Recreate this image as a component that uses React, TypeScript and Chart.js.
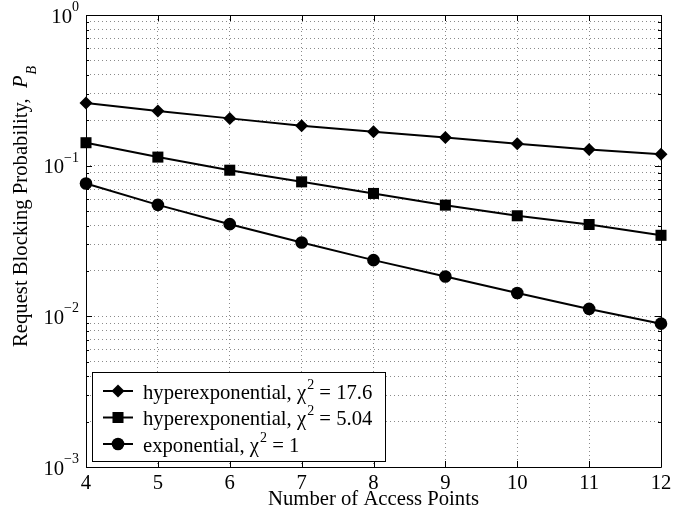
import React, { useEffect, useRef } from 'react';
import { Chart, registerables } from 'chart.js';

Chart.register(...registerables);

// Number of access points on the x axis
const accessPoints = [4, 5, 6, 7, 8, 9, 10, 11, 12];

// Request blocking probability P_B for each traffic model
const hyperExp176 = [0.261, 0.231, 0.206, 0.184, 0.168, 0.154, 0.14, 0.128, 0.119];
const hyperExp504 = [0.142, 0.114, 0.0933, 0.0781, 0.0654, 0.0547, 0.0465, 0.0407, 0.0345];
const exponential1 = [0.0762, 0.0549, 0.0409, 0.0309, 0.0236, 0.0184, 0.0143, 0.0112, 0.00894];

// Legend text, split around the superscript "2"
const legendPrefixes = ['hyperexponential, χ', 'hyperexponential, χ', 'exponential, χ'];
const legendSuffixes = [' = 17.6', ' = 5.04', ' = 1'];
const markerStyles = ['rectRot', 'rect', 'circle'];
const markerRadii = [6.5, 7.8, 6.3];

// Axis ticks
const xTicks = [4, 5, 6, 7, 8, 9, 10, 11, 12];
const yDecadeExponents = [-3, -2, -1, 0];

const FONT = '"Liberation Serif", "Times New Roman", Times, serif';
const MAIN = 20.7;
const SMALL = 14;

function logTickValues(): number[] {
  const vals: number[] = [];
  for (let e = -3; e < 0; e++) {
    for (let m = 1; m <= 9; m++) vals.push(Number((m * Math.pow(10, e)).toPrecision(6)));
  }
  vals.push(1);
  return vals;
}

function drawMarker(ctx: CanvasRenderingContext2D, style: string, r: number, x: number, y: number) {
  ctx.beginPath();
  if (style === 'rectRot') {
    ctx.moveTo(x - r, y);
    ctx.lineTo(x, y - r);
    ctx.lineTo(x + r, y);
    ctx.lineTo(x, y + r);
    ctx.closePath();
  } else if (style === 'rect') {
    const h = r * Math.SQRT1_2;
    ctx.rect(x - h, y - h, 2 * h, 2 * h);
  } else {
    ctx.arc(x, y, r, 0, Math.PI * 2);
  }
  ctx.fill();
}

const frameAndLabels = {
  id: 'frameAndLabels',
  beforeDatasetsDraw(chart: any) {
    const { ctx, chartArea: a, scales } = chart;
    const xs = scales.x;
    const ys = scales.y;
    ctx.save();
    // ticks pointing inward
    ctx.strokeStyle = '#000';
    ctx.lineWidth = 1;
    ctx.beginPath();
    xTicks.forEach((v) => {
      const px = Math.round(xs.getPixelForValue(v)) + 0.5;
      ctx.moveTo(px, a.bottom);
      ctx.lineTo(px, a.bottom - 6);
      ctx.moveTo(px, a.top);
      ctx.lineTo(px, a.top + 6);
    });
    logTickValues().forEach((v) => {
      const major = Math.abs(Math.log10(v) - Math.round(Math.log10(v))) < 1e-9;
      const len = major ? 6 : 3;
      const py = Math.round(ys.getPixelForValue(v)) + 0.5;
      ctx.moveTo(a.left, py);
      ctx.lineTo(a.left + len, py);
      ctx.moveTo(a.right, py);
      ctx.lineTo(a.right - len, py);
    });
    ctx.stroke();
    // frame
    ctx.beginPath();
    ctx.rect(Math.round(a.left) + 0.5, Math.round(a.top) + 0.5, Math.round(a.right - a.left), Math.round(a.bottom - a.top));
    ctx.stroke();

    ctx.fillStyle = '#000';
    // x tick labels
    ctx.font = `${MAIN}px ${FONT}`;
    ctx.textAlign = 'center';
    ctx.textBaseline = 'alphabetic';
    xTicks.forEach((v) => {
      ctx.fillText(String(v), xs.getPixelForValue(v), a.bottom + 22);
    });
    // x title
    ctx.fillText('Number of Access Points', (a.left + a.right) / 2, a.bottom + 38);

    // y tick labels: 10 with superscript exponent
    yDecadeExponents.forEach((e) => {
      const py = ys.getPixelForValue(Math.pow(10, e));
      const exp = e === 0 ? '0' : '−' + String(-e);
      ctx.font = `${SMALL}px ${FONT}`;
      ctx.textAlign = 'right';
      const expRight = a.left - 7;
      const expW = ctx.measureText(exp).width;
      ctx.fillText(exp, expRight, py - 4);
      ctx.font = `${MAIN}px ${FONT}`;
      ctx.fillText('10', expRight - expW, py + 7.5);
    });

    // y title with italic P and subscript B
    ctx.translate(27, 347);
    ctx.rotate(-Math.PI / 2);
    ctx.textAlign = 'left';
    ctx.font = `${MAIN}px ${FONT}`;
    const main = 'Request Blocking Probability,  ';
    ctx.fillText(main, 0, 0);
    let off = ctx.measureText(main).width;
    ctx.font = `italic ${MAIN}px ${FONT}`;
    ctx.fillText('P', off, 0);
    off += ctx.measureText('P').width + 1;
    ctx.font = `italic ${SMALL}px ${FONT}`;
    ctx.fillText('B', off, 9);
    ctx.restore();
  },
  afterDatasetsDraw(chart: any) {
    const { ctx } = chart;
    ctx.save();
    const bx = 92.5, by = 372.5, bw = 293, bh = 89;
    ctx.fillStyle = '#fff';
    ctx.fillRect(bx, by, bw, bh);
    ctx.strokeStyle = '#000';
    ctx.lineWidth = 1;
    ctx.strokeRect(bx, by, bw, bh);
    const rowY = [391, 417.5, 444];
    chart.data.datasets.forEach((ds: any, i: number) => {
      const cy = rowY[i];
      ctx.strokeStyle = '#000';
      ctx.lineWidth = 2;
      ctx.beginPath();
      ctx.moveTo(103, cy);
      ctx.lineTo(133, cy);
      ctx.stroke();
      ctx.fillStyle = '#000';
      drawMarker(ctx, ds.pointStyle, ds.pointRadius, 118, cy);
      ctx.font = `${MAIN}px ${FONT}`;
      ctx.textAlign = 'left';
      ctx.textBaseline = 'alphabetic';
      const base = cy + 7.5;
      ctx.fillText(legendPrefixes[i], 143, base);
      let x = 143 + ctx.measureText(legendPrefixes[i]).width + 1;
      ctx.font = `${SMALL}px ${FONT}`;
      ctx.fillText('2', x, base - 10);
      x += ctx.measureText('2').width;
      ctx.font = `${MAIN}px ${FONT}`;
      ctx.fillText(legendSuffixes[i], x, base);
    });
    ctx.restore();
  },
};

export default function App() {
  const ref = useRef<HTMLCanvasElement | null>(null);
  useEffect(() => {
    if (!ref.current) return;
    const series = [hyperExp176, hyperExp504, exponential1];
    const chart = new Chart(ref.current, {
      type: 'line',
      data: {
        datasets: series.map((vals, i) => ({
          label: legendPrefixes[i] + '2' + legendSuffixes[i],
          data: accessPoints.map((x, j) => ({ x, y: vals[j] })),
          borderColor: '#000',
          backgroundColor: '#000',
          borderWidth: 2,
          pointStyle: markerStyles[i] as any,
          pointRadius: markerRadii[i],
          pointBorderWidth: 0,
          pointBackgroundColor: '#000',
          tension: 0,
          clip: false as any,
        })),
      },
      options: {
        responsive: false,
        devicePixelRatio: 1,
        animation: false,
        events: [],
        layout: { padding: { left: 86, right: 35, top: 15, bottom: 51 } },
        plugins: { legend: { display: false }, tooltip: { enabled: false } },
        scales: {
          x: {
            type: 'linear',
            min: 4,
            max: 12,
            afterFit: (s: any) => { s.height = 0; },
            afterBuildTicks: (s: any) => { s.ticks = xTicks.map((v) => ({ value: v })); },
            ticks: { display: false },
            grid: { color: '#8a8a8a', lineWidth: 1, drawTicks: false },
            border: { display: false, dash: [1, 3] },
          },
          y: {
            type: 'logarithmic',
            min: 0.001,
            max: 1,
            afterFit: (s: any) => { s.width = 0; },
            afterBuildTicks: (s: any) => { s.ticks = logTickValues().map((v) => ({ value: v })); },
            ticks: { display: false },
            grid: { color: '#8a8a8a', lineWidth: 1, drawTicks: false },
            border: { display: false, dash: [1, 3] },
          },
        },
      },
      plugins: [frameAndLabels],
    });
    return () => chart.destroy();
  }, []);
  return (
    <div style={{ position: 'fixed', left: 0, top: 0, width: 696, height: 518, background: '#fff' }}>
      <canvas ref={ref} width={696} height={518} style={{ width: 696, height: 518, display: 'block' }} />
    </div>
  );
}
